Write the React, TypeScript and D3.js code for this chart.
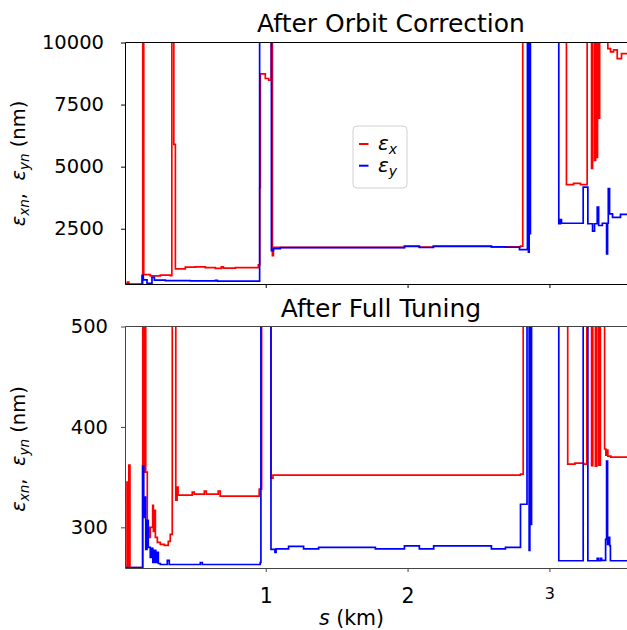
import React, { useRef, useEffect } from 'react';
import * as d3 from 'd3';

const W = 627;
const H = 630;
const FONT = 'DejaVu Sans, sans-serif';

// ---- data: s (km) breakpoints and normalized emittance (nm), step-after ----
// "After Orbit Correction"
const orbitXs = [0.010, 0.024, 0.035, 0.133, 0.140, 0.186, 0.257, 0.327, 0.338, 0.352, 0.363, 0.433, 0.504, 0.574, 0.645, 0.687, 0.701, 0.786, 0.948, 0.958, 0.962, 0.997, 1.021, 1.038, 1.047, 1.054, 1.978, 2.083, 2.182, 2.591, 2.796, 2.812, 3.120, 3.170, 3.219, 3.266, 3.297, 3.304, 3.318, 3.325, 3.332, 3.339, 3.347, 3.354, 3.412, 3.431, 3.452, 3.478, 3.508, 3.700];
const orbitXv = [260, 350, 260, 15000, 650, 600, 630, 610, 15000, 5900, 880, 950, 960, 930, 900, 960, 910, 930, 1050, 4150, 8740, 8550, 8480, 15000, 1420, 1750, 1800, 1760, 1800, 1770, 1800, 15000, 4275, 4330, 4275, 15000, 4930, 15000, 5250, 15000, 5370, 15000, 6950, 15000, 9750, 9620, 9700, 9350, 9550, 9550];
const orbitYs = [0.010, 0.128, 0.137, 0.163, 0.198, 0.215, 0.292, 0.468, 0.645, 0.659, 0.957, 1.040, 1.054, 1.103, 1.978, 2.083, 2.182, 2.591, 2.690, 2.789, 2.845, 2.852, 2.857, 2.863, 2.866, 3.066, 3.078, 3.085, 3.238, 3.271, 3.304, 3.318, 3.337, 3.347, 3.373, 3.403, 3.410, 3.415, 3.424, 3.445, 3.501, 3.700];
const orbitYv = [262, 620, 440, 300, 540, 430, 410, 400, 420, 390, 15000, 1620, 1700, 1740, 1790, 1745, 1790, 1770, 1755, 1660, 15000, 1560, 15000, 2300, 15000, 2700, 2870, 2720, 4175, 2700, 2400, 2700, 3370, 2630, 2720, 1490, 2720, 4115, 3100, 2960, 3075, 3075];

// "After Full Tuning"
const tuneXs = [0.010, 0.022, 0.029, 0.035, 0.043, 0.133, 0.144, 0.148, 0.154, 0.165, 0.174, 0.186, 0.203, 0.208, 0.215, 0.222, 0.236, 0.257, 0.285, 0.313, 0.327, 0.341, 0.366, 0.375, 0.382, 0.482, 0.496, 0.567, 0.581, 0.665, 0.679, 0.954, 0.971, 1.037, 1.051, 2.796, 2.815, 3.129, 3.180, 3.241, 3.264, 3.297, 3.306, 3.324, 3.334, 3.348, 3.359, 3.389, 3.398, 3.405, 3.412, 3.433, 3.700];
const tuneXv = [260, 345, 260, 362, 260, 800, 355, 800, 355, 300, 290, 300, 322, 296, 317, 290, 285, 283, 282, 286, 293, 800, 327, 340, 332, 335, 333, 336, 333, 336, 331, 338, 800, 349, 352, 353, 800, 363, 364, 363, 800, 361.5, 800, 361, 800, 362, 800, 378, 372, 377, 371, 370, 370];
const tuneYs = [0.010, 0.132, 0.140, 0.147, 0.154, 0.163, 0.172, 0.186, 0.193, 0.204, 0.215, 0.225, 0.236, 0.243, 0.257, 0.306, 0.320, 0.539, 0.553, 0.961, 0.966, 1.037, 1.065, 1.073, 1.161, 1.267, 1.373, 1.773, 1.978, 2.083, 2.184, 2.591, 2.690, 2.796, 2.842, 2.857, 2.862, 2.869, 2.874, 3.066, 3.238, 3.271, 3.337, 3.347, 3.361, 3.368, 3.396, 3.403, 3.410, 3.417, 3.425, 3.430, 3.700];
const tuneYv = [260, 361, 310, 330, 278, 307, 280, 270, 279, 265, 277, 265, 275, 264, 263, 267, 263, 265, 263, 265, 800, 278, 275, 278.5, 281, 278.5, 280, 278.5, 281.5, 278.5, 281.5, 278.5, 280, 323, 800, 277, 800, 303, 800, 266.7, 800, 266.7, 269, 266.7, 269, 267, 288, 366, 283, 290, 281.7, 266.7, 266.7];

const orbitTicks = [2500, 5000, 7500, 10000];
const tuneTicks = [300, 400, 500];
const sTicks = [1, 2, 3];
const titles = ['After Orbit Correction', 'After Full Tuning'];
const legendLabels = ['x', 'y'];
const RED = '#ff0000';
const BLUE = '#0000ff';

export default function App() {
  const svgRef = useRef(null);

  useEffect(() => {
    const svg = d3.select(svgRef.current);
    svg.selectAll('*').remove();

    const left = 125.5;
    const x = d3.scaleLinear().domain([0.01, 3.69]).range([125.3, 647.3]);

    const panels = [
      { title: titles[0], top: 42.5, bottom: 284.5, domain: [254, 10000], ticks: orbitTicks,
        series: [[orbitXs, orbitXv, RED], [orbitYs, orbitYv, BLUE]],
        pad: 17, showX: false, titleX: 391, titleY: 31.5, labelY: 163.5, spine: '#000' },
      { title: titles[1], top: 326.5, bottom: 568.5, domain: [259, 500], ticks: tuneTicks,
        series: [[tuneXs, tuneXv, RED], [tuneYs, tuneYv, BLUE]],
        pad: 13, showX: true, titleX: 381, titleY: 317, labelY: 449, spine: '#444' },
    ];

    panels.forEach((p, i) => {
      const y = d3.scaleLinear().domain(p.domain).range([p.bottom, p.top]);
      const g = svg.append('g');

      g.append('clipPath')
        .attr('id', `clip-${i}`)
        .append('rect')
        .attr('x', left)
        .attr('y', p.top)
        .attr('width', 530)
        .attr('height', p.bottom - p.top);

      const line = d3.line()
        .x((d) => x(d[0]))
        .y((d) => y(d[1]))
        .curve(d3.curveStepAfter);

      p.series.forEach(([ss, vv, color]) => {
        g.append('path')
          .attr('d', line(ss.map((s, k) => [s, vv[k]])))
          .attr('fill', 'none')
          .attr('stroke', color)
          .attr('stroke-width', 1.7)
          .attr('clip-path', `url(#clip-${i})`);
      });

      // spines
      g.append('line').attr('x1', left).attr('x2', left).attr('y1', p.top).attr('y2', p.bottom)
        .attr('stroke', p.spine);
      g.append('line').attr('x1', left).attr('x2', W).attr('y1', p.top).attr('y2', p.top)
        .attr('stroke', p.spine);
      g.append('line').attr('x1', left).attr('x2', W).attr('y1', p.bottom).attr('y2', p.bottom)
        .attr('stroke', p.spine);

      // y axis
      const yAxis = d3.axisLeft(y).tickValues(p.ticks).tickSize(4).tickPadding(p.pad)
        .tickFormat(d3.format('d'));
      const ya = g.append('g').attr('transform', `translate(${left - 0.5},0)`).call(yAxis);
      ya.select('.domain').remove();
      ya.selectAll('line').attr('stroke', p.spine);
      ya.selectAll('text').attr('font-size', 19.5).attr('font-family', FONT).attr('fill', '#000');

      // x axis
      const xAxis = d3.axisBottom(x).tickValues(sTicks).tickSize(4).tickPadding(16)
        .tickFormat((d) => (p.showX ? String(d) : ''));
      const xa = g.append('g').attr('transform', `translate(0,${p.bottom - 0.5})`).call(xAxis);
      xa.select('.domain').remove();
      xa.selectAll('line').attr('stroke', p.spine);
      xa.selectAll('text')
        .attr('font-size', (d) => (d === 3 ? 16 : 20.5))
        .attr('font-family', FONT)
        .attr('fill', '#000');

      // title
      g.append('text')
        .attr('x', p.titleX)
        .attr('y', p.titleY)
        .attr('text-anchor', 'middle')
        .attr('font-family', FONT)
        .attr('font-size', 25)
        .text(p.title);

      // y label
      const yl = g.append('text')
        .attr('transform', `translate(25,${p.labelY}) rotate(-90)`)
        .attr('text-anchor', 'middle')
        .attr('font-family', FONT)
        .attr('font-size', 19.5)
        .style('white-space', 'pre');
      yl.append('tspan').attr('font-style', 'italic').text('ε');
      yl.append('tspan').attr('font-style', 'italic').attr('font-size', 13.5).attr('dy', 4).text('xn');
      yl.append('tspan').attr('dy', -4).text(',  ');
      yl.append('tspan').attr('font-style', 'italic').text('ε');
      yl.append('tspan').attr('font-style', 'italic').attr('font-size', 13.5).attr('dy', 4).text('yn');
      yl.append('tspan').attr('dy', -4).text(' (nm)');
    });

    // x label
    const xl = svg.append('text')
      .attr('x', 351.5)
      .attr('y', 625)
      .attr('text-anchor', 'middle')
      .attr('font-family', FONT)
      .attr('font-size', 20.5)
      .style('white-space', 'pre');
    xl.append('tspan').attr('font-style', 'italic').text('s');
    xl.append('tspan').text(' (km)');

    // legend
    const lg = svg.append('g');
    lg.append('rect')
      .attr('x', 353)
      .attr('y', 126)
      .attr('width', 54)
      .attr('height', 62)
      .attr('rx', 4)
      .attr('fill', 'white')
      .attr('fill-opacity', 0.8)
      .attr('stroke', '#d0d0d0');
    [RED, BLUE].forEach((c, k) => {
      const cy = 144 + k * 21.7;
      lg.append('line').attr('x1', 359).attr('x2', 368.5).attr('y1', cy).attr('y2', cy)
        .attr('stroke', c).attr('stroke-width', 2);
      const t = lg.append('text')
        .attr('x', 378)
        .attr('y', cy + 6)
        .attr('font-family', FONT)
        .attr('font-size', 20)
        .attr('font-style', 'italic');
      t.append('tspan').text('ε');
      t.append('tspan').attr('font-size', 14).attr('dy', 4).text(legendLabels[k]);
    });
  }, []);

  return (
    <svg
      ref={svgRef}
      width={W}
      height={H}
      style={{ position: 'absolute', left: 0, top: 0, background: '#fff' }}
    />
  );
}
